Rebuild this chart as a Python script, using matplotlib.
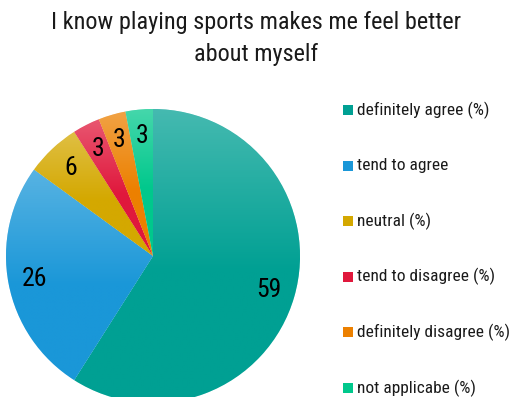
import numpy as np
import matplotlib
matplotlib.use("Agg")
import matplotlib.pyplot as plt
from matplotlib.colors import to_rgb

plt.rcParams['font.family'] = ['Liberation Sans Narrow', 'Roboto Condensed',
                               'Liberation Sans', 'DejaVu Sans']

# survey answers
labels = ["definitely agree (%)", "tend to agree", "neutral (%)",
          "tend to disagree (%)", "definitely disagree (%)", "not applicabe (%)"]
values = [59, 26, 6, 3, 3, 3]
colors = ["#00a093", "#1a97d8", "#d4a800", "#e0183c", "#ec8000", "#00c88c"]

title = "I know playing sports makes me feel better\nabout myself"

fig = plt.figure(figsize=(5.13, 3.97), dpi=100)
fig.text(0.5, 0.903, title, ha='center', va='center', fontsize=17.5,
         linespacing=1.5, color='#1a1a1a')

# pie axes: centre (153, 256) px, radius 147 px
R = 147
ax = fig.add_axes([(153 - R) / 513, (141 - R) / 397, 2 * R / 513, 2 * R / 397])
wedges, texts = ax.pie(values, startangle=90, counterclock=False, colors=colors,
                       labels=[str(v) for v in values], labeldistance=0.82,
                       wedgeprops=dict(edgecolor='white', linewidth=0.4),
                       textprops=dict(fontsize=18.5, color='black', ha='center', va='center'))
ax.set_aspect('equal')
ax.axis('off')

# vertical gradient inside every slice, lighter towards the top
for w, c in zip(wedges, colors):
    base = np.array(to_rgb(c))
    light = base + (1 - base) * 0.27
    ext = w.get_path().get_extents(w.get_patch_transform())
    t = np.clip(np.linspace(0, 1, 200) / 0.55, 0, 1)[:, None]
    grad = light * (1 - t[..., None]) + base * t[..., None]
    grad = np.repeat(grad, 2, axis=1)
    im = ax.imshow(grad, extent=[ext.x0, ext.x1, ext.y0, ext.y1], origin='upper',
                   aspect='auto', zorder=w.get_zorder() + 0.1, interpolation='bilinear')
    im.set_clip_path(w)
ax.set_xlim(-1, 1)
ax.set_ylim(-1, 1)
for t in texts:
    t.set_zorder(5)

# legend laid out by hand
for i, (lab, c) in enumerate(zip(labels, colors)):
    y = 397 - (110 + i * 55.6)
    base = np.array(to_rgb(c))
    fig.patches.append(plt.Rectangle((343 / 513, (y - 5) / 397), 10 / 513, 10 / 397,
                                     transform=fig.transFigure, facecolor=base,
                                     edgecolor='none'))
    fig.text(357 / 513, y / 397, lab, ha='left', va='center', fontsize=12.5,
             color='#1a1a1a')

fig.savefig("out.png", dpi=100)
